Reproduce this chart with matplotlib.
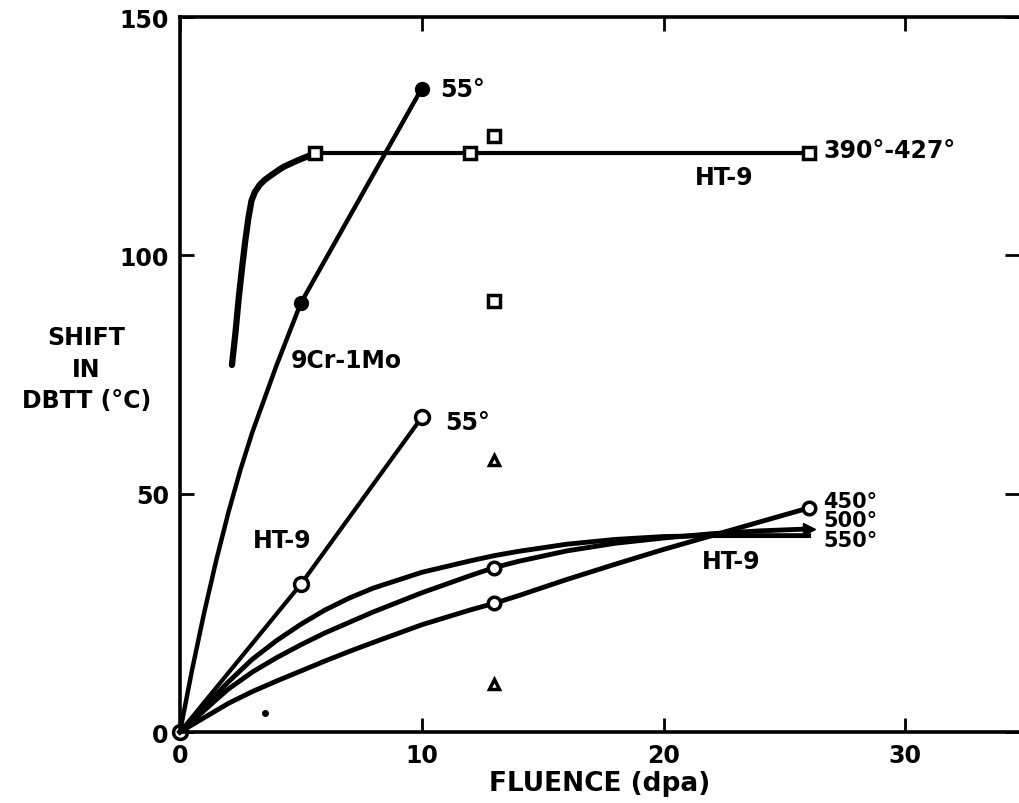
import matplotlib.pyplot as plt

# DBTT shift vs fluence for HT-9 and 9Cr-1Mo
cr_x = [0, 0.5, 1, 1.5, 2, 2.5, 3, 3.5, 4, 4.5, 5, 10]
cr_y = [0, 13, 25, 36, 46, 55, 63, 70, 77, 83.5, 90, 135]
cr_mark_x = [0, 5, 10]
cr_mark_y = [0, 90, 135]

ht55_x = [0, 5, 10]
ht55_y = [0, 31, 66]

# 390-427 C curve: steep rise then plateau
ht390_rise_x = [2.15, 2.3, 2.43, 2.56, 2.7, 2.83, 2.96, 3.1, 3.3, 3.5, 3.77,
                4.05, 4.3, 4.6, 4.86, 5.2, 5.6]
ht390_rise_y = [77, 84, 91, 97, 103, 107.8, 111.5, 113.3, 114.8, 115.8, 116.8,
                117.8, 118.6, 119.3, 119.9, 120.6, 121.5]
ht390_flat_x = [5.6, 12, 26]
ht390_flat_y = [121.5, 121.5, 121.5]

sq_x = [13, 13]
sq_y = [125, 90.5]
tri_x = [13, 13]
tri_y = [57, 10]
dot_x = [3.5]
dot_y = [4]

fx = [0, 0.5, 1, 1.5, 2, 3, 4, 5, 6, 7, 8, 10, 12, 13, 14, 16, 18, 20, 22, 24, 26]
ht450_y = [0, 1.5, 3, 4.5, 6, 8.5, 10.7, 12.8, 14.9, 16.9, 18.8, 22.5, 25.6, 27,
           28.6, 32, 35.2, 38.3, 41.2, 44.1, 47]
ht500_y = [0, 2.2, 4.5, 6.8, 9, 12.6, 15.6, 18.3, 20.8, 23, 25.2, 29.2, 32.8, 34.5,
           35.8, 38, 39.6, 40.7, 41.6, 42.2, 42.6]
ht550_y = [0, 2.6, 5.2, 7.9, 10.5, 15.3, 19.2, 22.6, 25.6, 28.1, 30.2, 33.5, 35.9, 37,
           37.9, 39.4, 40.4, 41, 41.2, 41.2, 41.2]
i13 = fx.index(13)

xticks = [0, 10, 20, 30]
yticks = [0, 50, 100, 150]

plt.rcParams['font.family'] = ['DejaVu Sans']
plt.rcParams['font.weight'] = 'bold'

fig = plt.figure(figsize=(10.19, 8.04), dpi=100)
ax = fig.add_axes([0.1766, 0.0883, 0.8234, 0.8893])
ax.set_xlim(0, 34.7)
ax.set_ylim(0, 150)

k = 'black'
ax.plot(cr_x, cr_y, color=k, lw=3.2, clip_on=False, solid_joinstyle='round')
ax.plot(cr_mark_x, cr_mark_y, 'o', color=k, ms=10, clip_on=False)

ax.plot(ht55_x, ht55_y, color=k, lw=3, clip_on=False)
ax.plot(ht55_x, ht55_y, 'o', mfc='white', mec=k, mew=2.5, ms=10, clip_on=False)

ax.plot(ht390_rise_x, ht390_rise_y, color=k, lw=4.5, solid_capstyle='round',
        solid_joinstyle='round')
ax.plot(ht390_flat_x, ht390_flat_y, color=k, lw=3)
ax.plot(ht390_flat_x, ht390_flat_y, 's', mfc='white', mec=k, mew=2.5, ms=9)

ax.plot(sq_x, sq_y, 's', mfc='white', mec=k, mew=2.5, ms=9)
ax.plot(tri_x, tri_y, '^', mfc='white', mec=k, mew=2.5, ms=7)
ax.plot(dot_x, dot_y, 'o', color=k, ms=4)

for ys in (ht450_y, ht500_y, ht550_y):
    ax.plot(fx, ys, color=k, lw=3.5, clip_on=False, solid_joinstyle='round')
ax.plot([13, 26], [ht450_y[i13], ht450_y[-1]], 'o', mfc='white', mec=k, mew=2.5, ms=9)
ax.plot([13], [ht500_y[i13]], 'o', mfc='white', mec=k, mew=2.5, ms=9)
ax.plot([26], [ht500_y[-1]], '>', color=k, ms=8)

fs = 17
ax.text(10.75, 135, '55°', fontsize=fs, va='center', fontweight='heavy')
ax.text(4.6, 78, '9Cr-1Mo', fontsize=fs, va='center', fontweight='heavy')
ax.text(10.95, 65, '55°', fontsize=fs, va='center', fontweight='heavy')
ax.text(3.0, 40.3, 'HT-9', fontsize=fs, va='center', fontweight='heavy')
ax.text(22.5, 116.5, 'HT-9', fontsize=fs, va='center', ha='center', fontweight='heavy')
ax.text(26.6, 122, '390°-427°', fontsize=fs, va='center', fontweight='heavy')
ax.text(22.8, 35.8, 'HT-9', fontsize=fs, va='center', ha='center', fontweight='heavy')
ax.text(26.6, 48.5, '450°', fontsize=15, va='center', fontweight='heavy')
ax.text(26.6, 44.4, '500°', fontsize=15, va='center', fontweight='heavy')
ax.text(26.6, 40.3, '550°', fontsize=15, va='center', fontweight='heavy')

ax.set_xticks(xticks)
ax.set_yticks(yticks)
ax.set_xticklabels([str(v) for v in xticks], fontsize=17, fontweight='heavy')
ax.set_yticklabels([str(v) for v in yticks], fontsize=17, fontweight='heavy')
ax.tick_params(direction='in', length=10, width=2, top=True, right=True, pad=8)

for s in ('left', 'bottom', 'top'):
    ax.spines[s].set_linewidth(2.6)
ax.spines['right'].set_visible(False)

ax.set_xlabel('FLUENCE (dpa)', fontsize=19, fontweight='heavy', labelpad=2)
fig.text(0.085, 0.54, 'SHIFT\nIN\nDBTT (°C)', fontsize=17, fontweight='heavy',
         ha='center', va='center', linespacing=1.4)

fig.savefig('out.png', dpi=100)
